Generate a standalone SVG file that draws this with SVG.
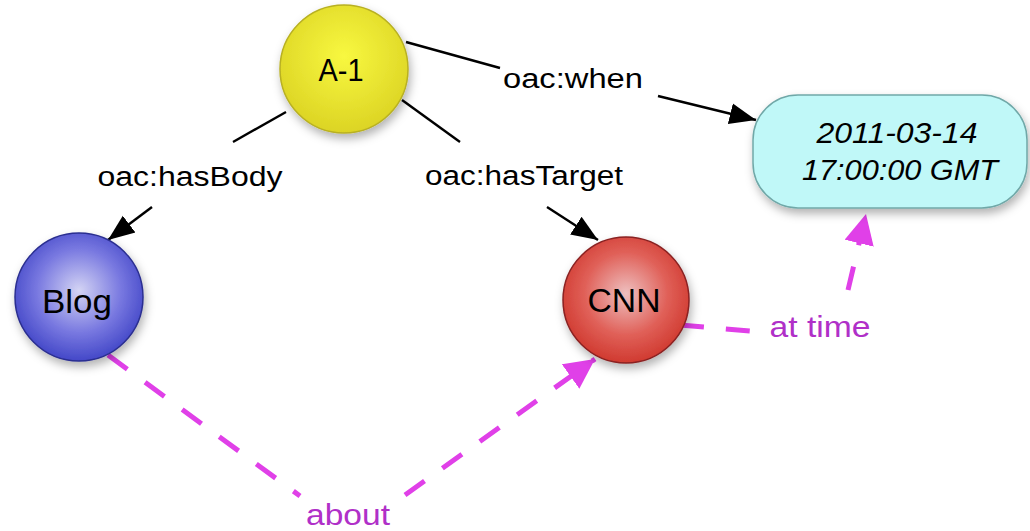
<svg xmlns="http://www.w3.org/2000/svg" width="1030" height="531" viewBox="0 0 1030 531">
<defs>
<radialGradient id="gY" cx="50%" cy="40%" r="60%"><stop offset="0" stop-color="#f8f840"/><stop offset="1" stop-color="#dcd424"/></radialGradient>
<radialGradient id="gB" cx="50%" cy="45%" r="55%"><stop offset="0" stop-color="#d4d4f4"/><stop offset="0.6" stop-color="#7878e0"/><stop offset="1" stop-color="#4448c8"/></radialGradient>
<radialGradient id="gR" cx="50%" cy="45%" r="55%"><stop offset="0" stop-color="#eec0c0"/><stop offset="0.6" stop-color="#e06058"/><stop offset="1" stop-color="#d03a30"/></radialGradient>
<filter id="sh" x="-30%" y="-30%" width="160%" height="170%"><feDropShadow dx="2" dy="5" stdDeviation="5" flood-color="#000" flood-opacity="0.3"/></filter>
<marker id="am" viewBox="0 0 10 10" refX="10" refY="5" markerWidth="6" markerHeight="6" orient="auto"><path d="M0,0 L10,5 L0,10 z" fill="#e040e8"/></marker>
<marker id="ak" viewBox="0 0 10 10" refX="10" refY="5" markerWidth="11" markerHeight="11" orient="auto"><path d="M0,1 L10,5 L0,9 z" fill="#000"/></marker>
<style>
.lbl{font-family:"Liberation Sans",Arial,sans-serif;font-size:27px;fill:#000;text-anchor:middle}
.ml{font-family:"Liberation Sans",Arial,sans-serif;font-size:29px;fill:#b030c8;text-anchor:middle}
.nt{font-family:"Liberation Sans",Arial,sans-serif;font-size:34px;fill:#000;text-anchor:middle}
.it{font-family:"Liberation Sans",Arial,sans-serif;font-size:29px;font-style:italic;fill:#000;text-anchor:middle}
.e{stroke:#000;stroke-width:2.4;fill:none}
.d{stroke:#e040e8;stroke-width:5;fill:none;stroke-dasharray:24 22}
</style>
</defs>
<g id="connectors">
<line class="e" x1="406" y1="42" x2="500" y2="68"/>
<line class="e" x1="658" y1="96" x2="756" y2="120" marker-end="url(#ak)"/>
<line class="e" x1="286" y1="112" x2="233" y2="142"/>
<line class="e" x1="152" y1="207" x2="108" y2="240" marker-end="url(#ak)"/>
<line class="e" x1="402" y1="100" x2="460" y2="142"/>
<line class="e" x1="547" y1="207" x2="598" y2="240" marker-end="url(#ak)"/>
<path class="d" d="M680,325 L750,331"/>
<path class="d" d="M848,290 L866,214" marker-end="url(#am)"/>
<path class="d" d="M108,355 L300,496"/>
<path class="d" d="M405,495 L595,359" marker-end="url(#am)"/>
<text class="lbl" x="573" y="88" textLength="140" lengthAdjust="spacingAndGlyphs">oac:when</text>
<text class="lbl" x="190" y="186" textLength="185" lengthAdjust="spacingAndGlyphs">oac:hasBody</text>
<text class="lbl" x="524" y="185" textLength="198" lengthAdjust="spacingAndGlyphs">oac:hasTarget</text>
<text class="ml" x="820" y="337" textLength="101" lengthAdjust="spacingAndGlyphs">at time</text>
<text class="ml" x="348" y="525" textLength="84" lengthAdjust="spacingAndGlyphs">about</text>
</g>
<g id="node-a1">
<circle cx="344" cy="69" r="64" fill="url(#gY)" stroke="#b8b020" stroke-width="1.5" filter="url(#sh)"/>
<text class="nt" x="341" y="81" style="font-size:31px" textLength="45" lengthAdjust="spacingAndGlyphs">A-1</text>
</g>
<g id="node-blog">
<circle cx="79" cy="297" r="64" fill="url(#gB)" stroke="#2a2e90" stroke-width="1.5" filter="url(#sh)"/>
<text class="nt" x="77" y="313" textLength="70" lengthAdjust="spacingAndGlyphs">Blog</text>
</g>
<g id="node-cnn">
<circle cx="626" cy="300" r="63" fill="url(#gR)" stroke="#8a2020" stroke-width="1.5" filter="url(#sh)"/>
<text class="nt" x="624" y="312" textLength="73" lengthAdjust="spacingAndGlyphs">CNN</text>
</g>
<g id="node-time">
<rect x="753" y="95" width="274" height="113" rx="45" fill="#c0f8f8" stroke="#70a8a8" stroke-width="1.5" filter="url(#sh)"/>
<text class="it" x="897" y="143" textLength="161" lengthAdjust="spacingAndGlyphs">2011-03-14</text>
<text class="it" x="900" y="180" textLength="196" lengthAdjust="spacingAndGlyphs">17:00:00 GMT</text>
</g>
</svg>
